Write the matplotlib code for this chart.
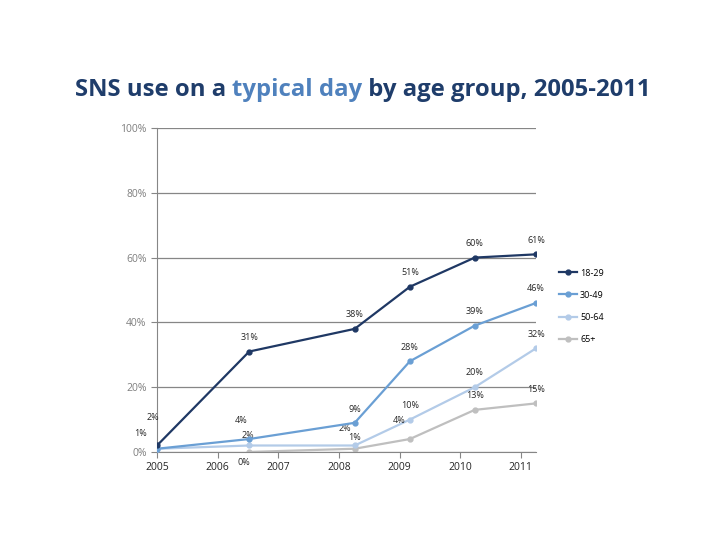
import matplotlib
matplotlib.use("Agg")
import matplotlib.pyplot as plt

plt.rcParams['font.family'] = ['Open Sans', 'DejaVu Sans']

# survey dates (decimal years) and share of adults using SNS on a typical day
dates = [2005.0, 2006.52, 2008.26, 2009.17, 2010.24, 2011.25]
age_18_29 = [2, 31, 38, 51, 60, 61]
age_30_49 = [1, 4, 9, 28, 39, 46]
age_50_64 = [1, 2, 2, 10, 20, 32]
age_65 = [None, 0, 1, 4, 13, 15]
series_names = ['18-29', '30-49', '50-64', '65+']
year_ticks = [2005, 2006, 2007, 2008, 2009, 2010, 2011]

colors = ['#1f3864', '#6a9fd4', '#b3cbe8', '#bfbfbf']
series = [age_18_29, age_30_49, age_50_64, age_65]

# label offsets in points (dx, dy) for each series/point; None = no label
offsets = {
    0: [(-3, 17), (0, 7), (0, 7), (0, 7), (0, 7), (0, 7)],
    1: [(-12, 8), (-6, 10), (0, 6), (0, 7), (0, 7), (0, 7)],
    2: [None, (-1, 4), (-7, 9), (0, 7), (0, 7), (0, 7)],
    3: [None, (-4, -11), (0, 5), (-8, 10), (0, 7), (0, 7)],
}

fig = plt.figure(figsize=(7.28, 5.46), dpi=100)
ax = fig.add_axes([0.2157, 0.1722, 0.5206, 0.5934])

for i, (vals, name) in enumerate(zip(series, series_names)):
    xs = [d for d, v in zip(dates, vals) if v is not None]
    ys = [v for v in vals if v is not None]
    ax.plot(xs, ys, color=colors[i], lw=1.6, marker='o', markersize=3.5, label=name, zorder=5 - i)
    for j, (d, v) in enumerate(zip(dates, vals)):
        if v is None or offsets[i][j] is None:
            continue
        dx, dy = offsets[i][j]
        ax.annotate(f'{v}%', (d, v), xytext=(dx, dy), textcoords='offset points',
                    ha='center', va='bottom', fontsize=6.5, color='#262626')

ax.set_xlim(2005, 2011.25)
ax.set_ylim(0, 100)
ax.set_xticks(year_ticks)
ax.set_xticklabels([str(y) for y in year_ticks], fontsize=7.5, color='#262626')
ax.set_yticks([0, 20, 40, 60, 80, 100])
ax.set_yticklabels(['0%', '20%', '40%', '60%', '80%', '100%'], fontsize=7.5, color='#7f7f7f')
ax.yaxis.grid(True, color='#868686', lw=0.9)
ax.set_axisbelow(True)
for s in ['top', 'right']:
    ax.spines[s].set_visible(False)
ax.spines['left'].set_color('#868686')
ax.spines['bottom'].set_color('#868686')
ax.tick_params(axis='x', direction='out', length=4, color='#868686')
ax.tick_params(axis='y', direction='out', length=4, color='#868686')

ax.legend(loc='center left', bbox_to_anchor=(1.04, 0.45), frameon=False, fontsize=6.5,
          handlelength=2.0, labelspacing=1.45, handletextpad=0.3)

# title with the highlighted words in lighter blue
fs = 17.2
t1 = fig.text(0.103, 0.825, 'SNS use on a ', fontsize=fs, fontweight='bold',
              color='#1f3d6b', ha='left', va='baseline')
t2 = ax.annotate('typical day', xy=(1, 0), xycoords=t1, fontsize=fs, fontweight='bold',
                 color='#4f81bd', ha='left', va='bottom', annotation_clip=False)
t3 = ax.annotate(' by age group, 2005-2011', xy=(1, 0), xycoords=t2, fontsize=fs,
                 fontweight='bold', color='#1f3d6b', ha='left', va='bottom', annotation_clip=False)

fig.savefig('out.png', dpi=100)
